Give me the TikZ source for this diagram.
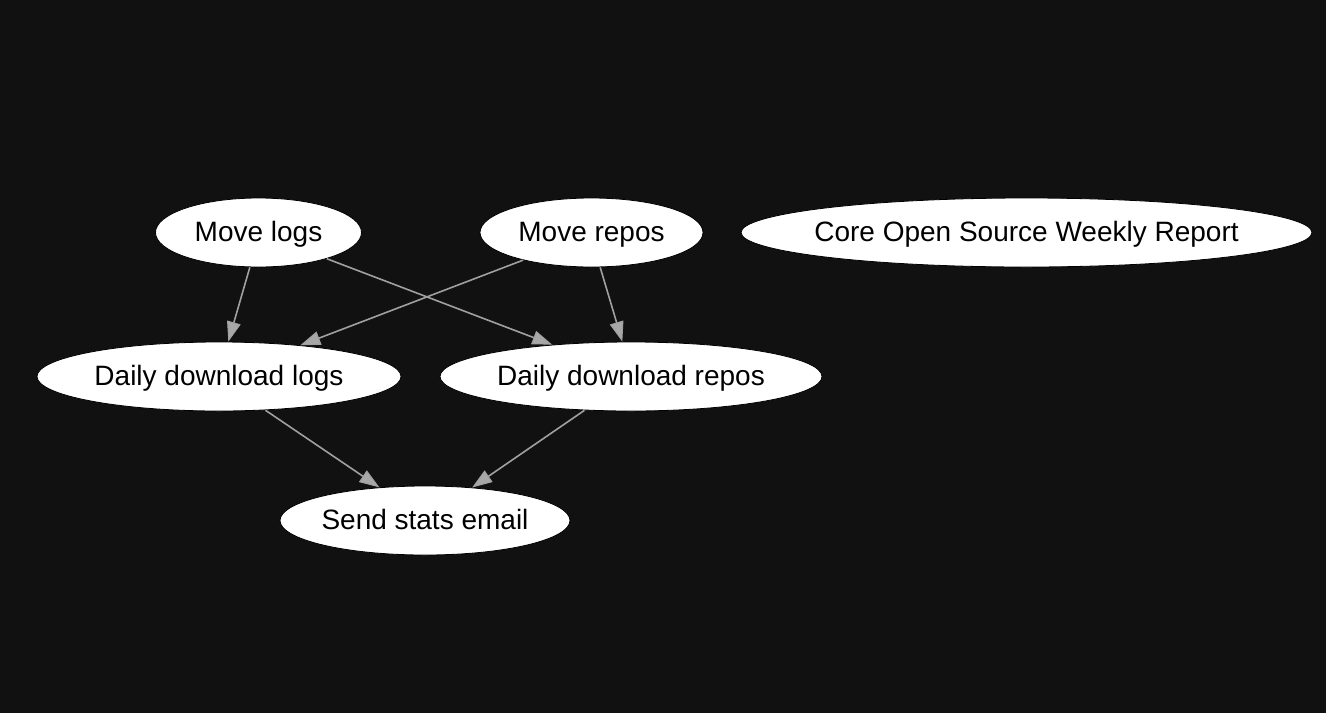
\documentclass[tikz,border=0pt]{standalone}
\usepackage{fontspec}
\setmainfont{Liberation Sans}
\usetikzlibrary{shapes.geometric,arrows.meta}
\definecolor{bg}{HTML}{111111}
\definecolor{edgecol}{HTML}{A0A0A0}
\definecolor{tipfill}{HTML}{A8A8A8}
\newcommand{\tasklabel}[1]{\makebox[0pt]{\raisebox{-8.5pt}[0pt][0pt]{#1}}}
\begin{document}
\begin{tikzpicture}[x=1pt,y=-1pt,
  task/.style={ellipse,draw=black,line width=0.8pt,fill=white,text=black,inner sep=0pt,
    minimum height=69pt,font=\fontsize{28pt}{32pt}\selectfont},
  dep/.style={draw=edgecol,line width=1.6pt,
    -{Triangle[length=20pt,width=14pt,fill=tipfill,line width=1pt]}}]
\fill[bg] (0,0) rectangle (1326,713);
\useasboundingbox (0,0) rectangle (1326,713);
\node[task,minimum width=206pt] (ml) at (258.5,232.5) {\tasklabel{Move logs}};
\node[task,minimum width=223pt] (mr) at (591.5,232.5) {\tasklabel{Move repos}};
\node[task,minimum width=571pt] (core) at (1026.5,232.5) {\tasklabel{Core Open Source Weekly Report}};
\node[task,minimum width=364pt] (ddl) at (219,376.5) {\tasklabel{Daily download logs}};
\node[task,minimum width=382pt] (ddr) at (631,376.5) {\tasklabel{Daily download repos}};
\node[task,minimum width=290pt] (sse) at (425,520.5) {\tasklabel{Send stats email}};
\draw[dep] (ml.-104.6) -- (ddl.75.4);
\draw[dep] (ml.-21.9) -- (ddr.158.3);
\draw[dep] (mr.-158.3) -- (ddl.21.7);
\draw[dep] (mr.-76.5) -- (ddr.104.6);
\draw[dep] (ddl.-36.5) -- (sse.144.5);
\draw[dep] (ddr.-144) -- (sse.35.5);
\end{tikzpicture}
\end{document}
